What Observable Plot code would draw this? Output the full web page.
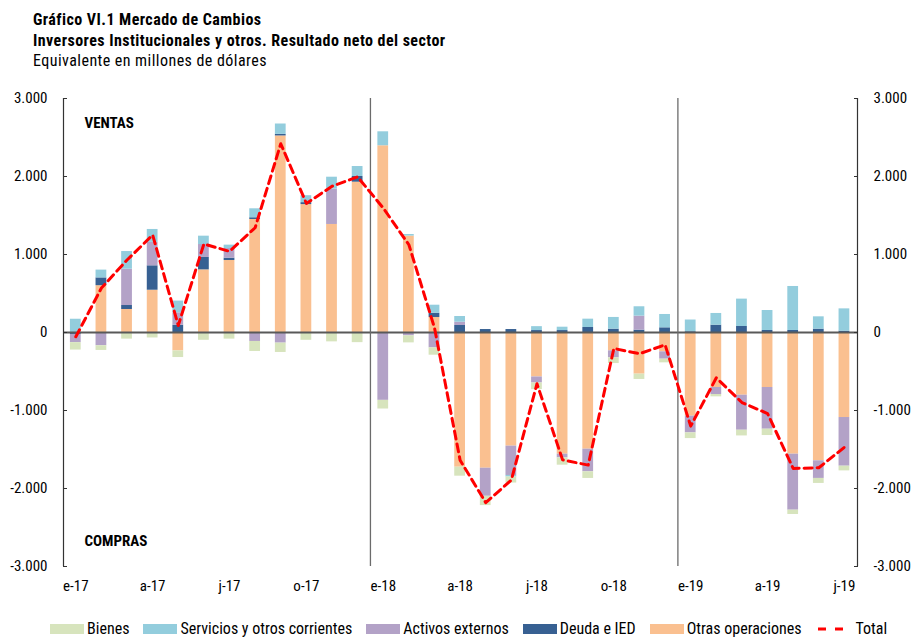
<!DOCTYPE html>
<html>
<head>
<meta charset="utf-8">
<script src="https://cdn.jsdelivr.net/npm/d3@7"></script>
<script src="https://cdn.jsdelivr.net/npm/@observablehq/plot@0.6"></script>
<style>
  body { margin: 0; background: #fff; }
  #wrap { position: relative; width: 912px; height: 637px; overflow: hidden;
    font-family: "Roboto Condensed", "Liberation Sans Narrow", "DejaVu Sans Condensed", Roboto, sans-serif; color: #000; }
  #head { position: absolute; left: 33px; top: 10px; font-size: 16px; line-height: 20.5px; letter-spacing: 0.45px; white-space: nowrap; }
  #head .b { font-weight: bold; }
  #chart { position: absolute; left: 0; top: 80px; }
  #legend { position: absolute; left: 50px; top: 621px; display: flex; align-items: center; font-size: 16px; line-height: 16px; white-space: nowrap; }
  #legend .item { display: flex; align-items: center; margin-right: 14px; }
  #legend .sw { width: 34px; height: 10px; margin-right: 3px; }
</style>
</head>
<body>
<div id="wrap">
  <div id="head">
    <div class="b">Gráfico VI.1 Mercado de Cambios</div>
    <div class="b">Inversores Institucionales y otros. Resultado neto del sector</div>
    <div>Equivalente en millones de dólares</div>
  </div>
  <div id="chart"></div>
  <div id="legend"></div>
</div>
<script>
// ---- data (millones de USD) ----
const months = ["2017-01","2017-02","2017-03","2017-04","2017-05","2017-06","2017-07","2017-08","2017-09","2017-10","2017-11","2017-12",
                "2018-01","2018-02","2018-03","2018-04","2018-05","2018-06","2018-07","2018-08","2018-09","2018-10","2018-11","2018-12",
                "2019-01","2019-02","2019-03","2019-04","2019-05","2019-06","2019-07"];
const tickIndex = [0, 3, 6, 9, 12, 15, 18, 21, 24, 27, 30];
const tickLabels = ["e-17","a-17","j-17","o-17","e-18","a-18","j-18","o-18","e-19","a-19","j-19"];
const yTicks = [-3000, -2000, -1000, 0, 1000, 2000, 3000];

const bienes     = [-95,-60,-85,-70,-85,-100,-85,-128,-120,-100,-120,-130, -111,-90,-94,-115,-119,-77,-85,-94,-85,-73,-68,-47, -73,-30,-73,-81,-55,-64,-60];
const servicios  = [170,100,226,166,150,107,43,115,133,89,153,128, 179,20,103,73,0,-20,50,43,107,150,120,171, 150,150,351,256,564,158,286];
const activos    = [-105,-170,466,300,160,166,124,-115,-136,0,453,0, -870,-43,-197,42,-360,-376,-77,-47,-290,-90,180,-94, -214,-90,-449,-535,-718,-226,-624];
const deuda      = [-25,100,51,313,93,159,30,22,20,25,0,73, 0,0,55,90,38,38,25,25,64,43,30,60, 10,94,77,26,26,43,17];
const otras      = [0,600,295,542,-236,803,923,1449,2520,1640,1385,1927, 2394,1236,192,-1727,-1740,-1457,-570,-1560,-1496,-235,-534,-248, -1073,-705,-804,-705,-1560,-1645,-1090];
const total      = [-55,570,930,1250,90,1135,1040,1343,2420,1655,1875,1995, 1595,1125,60,-1637,-2181,-1892,-657,-1633,-1700,-205,-272,-158, -1200,-581,-898,-1039,-1743,-1734,-1471];

const seriesNames = ["Bienes", "Servicios y otros corrientes", "Activos externos", "Deuda e IED", "Otras operaciones"];
const seriesColors = ["#D7E4BD", "#93CDDD", "#B3A2C7", "#376092", "#FAC090"];
const stackOrder = ["Otras operaciones", "Deuda e IED", "Activos externos", "Servicios y otros corrientes", "Bienes"];
const valuesBySeries = {
  "Bienes": bienes,
  "Servicios y otros corrientes": servicios,
  "Activos externos": activos,
  "Deuda e IED": deuda,
  "Otras operaciones": otras
};

const rows = [];
months.forEach((m, i) => stackOrder.forEach(s => rows.push({i, month: m, series: s, value: valuesBySeries[s][i]})));
const totalRows = months.map((m, i) => ({i, month: m, total: total[i]}));

const loc = d3.formatLocale({decimal: ",", thousands: ".", grouping: [3], currency: ["$", ""], minus: "-"});
const fmt = loc.format(",d");

const xMin = -0.48, xMax = 30.51;
const half = 0.21;
const font = '"Roboto Condensed", "Liberation Sans Narrow", "DejaVu Sans Condensed", Roboto, sans-serif';

const chart = Plot.plot({
  width: 912,
  height: 532,
  marginTop: 18,
  marginBottom: 46,
  marginLeft: 63,
  marginRight: 55,
  style: {fontFamily: font, fontSize: "15px", color: "#000", background: "transparent", overflow: "visible"},
  x: {type: "linear", domain: [xMin, xMax], axis: null},
  y: {domain: [-3000, 3000], axis: null},
  color: {domain: seriesNames, range: seriesColors},
  marks: [
    Plot.rect(rows, Plot.stackY({
      x: "i", y: "value", fill: "series",
      x1: d => d.i - half, x2: d => d.i + half
    })),
    Plot.ruleY([0], {stroke: "#595959", strokeWidth: 2}),
    Plot.ruleX([11.5, 23.5], {stroke: "#6b6b6b", strokeWidth: 1.3}),
    Plot.ruleX([xMin, xMax], {stroke: "#333", strokeWidth: 1.2}),
    Plot.line(totalRows, {x: "i", y: "total", stroke: "#FF0000", strokeWidth: 3, strokeDasharray: "8,5"}),
    Plot.axisY({anchor: "left", ticks: yTicks, tickFormat: fmt, tickSize: -4, tickPadding: 20, label: null, stroke: "#333"}),
    Plot.axisY({anchor: "right", ticks: yTicks, tickFormat: fmt, tickSize: -4, tickPadding: 20, label: null, stroke: "#333"}),
    Plot.axisX({ticks: tickIndex, tickFormat: i => tickLabels[tickIndex.indexOf(i)], tickSize: 0, tickPadding: 14, label: null}),
    Plot.text(["VENTAS"], {frameAnchor: "top-left", dx: 21, dy: 19, textAnchor: "start", fontWeight: "bold", fontSize: 15}),
    Plot.text(["COMPRAS"], {frameAnchor: "bottom-left", dx: 21, dy: -21, textAnchor: "start", fontWeight: "bold", fontSize: 15})
  ]
});
document.getElementById("chart").appendChild(chart);

// legend
const legend = document.getElementById("legend");
seriesNames.forEach((name, k) => {
  const item = document.createElement("div");
  item.className = "item";
  const sw = document.createElement("span");
  sw.className = "sw";
  sw.style.background = seriesColors[k];
  const label = document.createElement("span");
  label.textContent = name;
  item.appendChild(sw);
  item.appendChild(label);
  legend.appendChild(item);
});
const tItem = document.createElement("div");
tItem.className = "item";
tItem.innerHTML = '<svg width="30" height="10" style="margin-right:10px"><line x1="2" y1="5" x2="30" y2="5" stroke="#FF0000" stroke-width="3" stroke-dasharray="8,9"/></svg><span>Total</span>';
legend.appendChild(tItem);
</script>
</body>
</html>
